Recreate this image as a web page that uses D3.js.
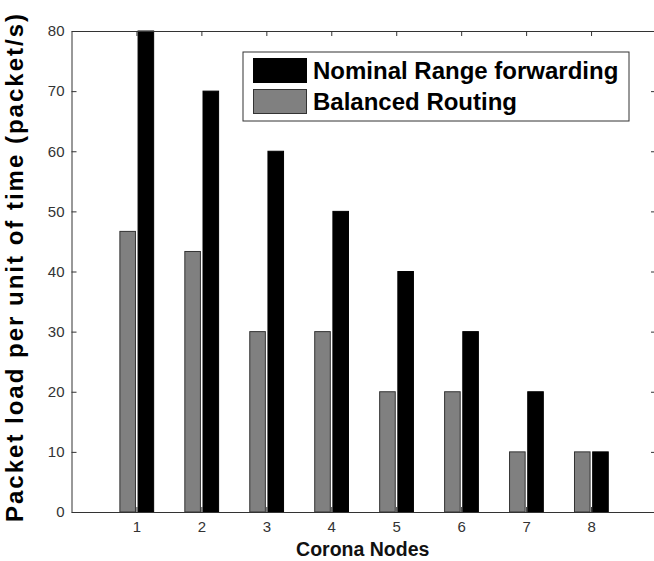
<!DOCTYPE html>
<html>
<head>
<meta charset="utf-8">
<script src="https://cdn.jsdelivr.net/npm/d3@7"></script>
<style>
  html, body { margin: 0; padding: 0; background: #fff; }
  svg { display: block; }
</style>
</head>
<body>
<svg id="chart" width="654" height="561"></svg>
<script>
// ---- data ----
const categories = [1, 2, 3, 4, 5, 6, 7, 8];
const balancedRouting = [46.67, 43.33, 30, 30, 20, 20, 10, 10];
const nominalRange = [80, 70, 60, 50, 40, 30, 20, 10];
const seriesNames = ["Nominal Range forwarding", "Balanced Routing"];
const yTicks = [0, 10, 20, 30, 40, 50, 60, 70, 80];
const xLabel = "Corona Nodes";
const yLabel = "Packet load per unit of time (packet/s)";

// ---- layout ----
const svg = d3.select("#chart");
const plotL = 71.5, plotR = 656, plotT = 31, plotB = 512;
const x = d3.scaleLinear().domain([0, 9]).range([plotL, plotR]);
const y = d3.scaleLinear().domain([0, 80]).range([plotB, plotT]);
const axisColor = "#333";
const grayFill = "#808080";

// bars: gray (balanced) left of tick, black (nominal) right of tick
const barW = 0.24;
svg.append("g").selectAll("rect")
  .data(categories.map((c, i) => ({ c, v: balancedRouting[i] })))
  .join("rect")
  .attr("x", d => x(d.c - 0.255))
  .attr("width", d => x(d.c - 0.255 + barW) - x(d.c - 0.255))
  .attr("y", d => y(d.v))
  .attr("height", d => y(0) - y(d.v))
  .attr("fill", grayFill)
  .attr("stroke", "#333")
  .attr("stroke-width", 1);

svg.append("g").selectAll("rect")
  .data(categories.map((c, i) => ({ c, v: nominalRange[i] })))
  .join("rect")
  .attr("x", d => x(d.c + 0.025))
  .attr("width", d => x(d.c + 0.025 + barW) - x(d.c + 0.025))
  .attr("y", d => y(d.v))
  .attr("height", d => y(0) - y(d.v))
  .attr("fill", "#000")
  .attr("stroke", "#000")
  .attr("stroke-width", 1);

// ---- axes ----
function styleAxis(g) {
  g.selectAll("path").attr("stroke", axisColor).attr("stroke-width", 1);
  g.selectAll("line").attr("stroke", axisColor).attr("stroke-width", 1);
  g.selectAll("text").attr("fill", "#333")
    .attr("font-family", "Liberation Sans, Arial, sans-serif")
    .attr("font-size", "15px");
}

svg.append("g")
  .attr("transform", `translate(0,${plotB})`)
  .call(d3.axisBottom(x).tickValues(categories).tickSizeInner(-5).tickSizeOuter(0).tickPadding(9))
  .call(styleAxis);

svg.append("g")
  .attr("transform", `translate(0,${plotT})`)
  .call(d3.axisTop(x).tickValues(categories).tickSizeInner(-5).tickSizeOuter(0).tickFormat(""))
  .call(styleAxis);

svg.append("g")
  .attr("transform", `translate(${plotL},0)`)
  .call(d3.axisLeft(y).tickValues(yTicks).tickSizeInner(-5).tickSizeOuter(0).tickPadding(7))
  .call(styleAxis);

svg.append("g")
  .attr("transform", `translate(${plotR},0)`)
  .call(d3.axisRight(y).tickValues(yTicks).tickSizeInner(-5).tickSizeOuter(0).tickFormat(""))
  .call(styleAxis);

// ---- axis titles ----
svg.append("text")
  .attr("x", (plotL + plotR) / 2 - 1)
  .attr("y", 556)
  .attr("text-anchor", "middle")
  .attr("font-family", "Liberation Sans, Arial, sans-serif")
  .attr("font-weight", "bold")
  .attr("font-size", "19.5px")
  .attr("fill", "#111")
  .text(xLabel);

svg.append("text")
  .attr("transform", "translate(23,268) rotate(-90)")
  .attr("text-anchor", "middle")
  .attr("font-family", "Liberation Sans, Arial, sans-serif")
  .attr("font-weight", "bold")
  .attr("font-size", "24px")
  .attr("textLength", 508)
  .attr("lengthAdjust", "spacing")
  .attr("fill", "#000")
  .text(yLabel);

// ---- legend ----
const lg = svg.append("g");
lg.append("rect")
  .attr("x", 243).attr("y", 52).attr("width", 386).attr("height", 69)
  .attr("fill", "#fff").attr("stroke", "#333").attr("stroke-width", 1);

const legendItems = [
  { name: seriesNames[0], fill: "#000", stroke: "#000" },
  { name: seriesNames[1], fill: grayFill, stroke: "#333" }
];
const lgRow = lg.selectAll("g.item").data(legendItems).join("g")
  .attr("class", "item")
  .attr("transform", (d, i) => `translate(0,${i * 31})`);
lgRow.append("rect")
  .attr("x", 253.5).attr("y", 58.5).attr("width", 53).attr("height", 24)
  .attr("fill", d => d.fill).attr("stroke", d => d.stroke);
lgRow.append("text")
  .attr("x", 313).attr("y", 79)
  .attr("font-family", "Liberation Sans, Arial, sans-serif")
  .attr("font-weight", "bold")
  .attr("font-size", "24px")
  .attr("fill", "#000")
  .text(d => d.name);
</script>
</body>
</html>
